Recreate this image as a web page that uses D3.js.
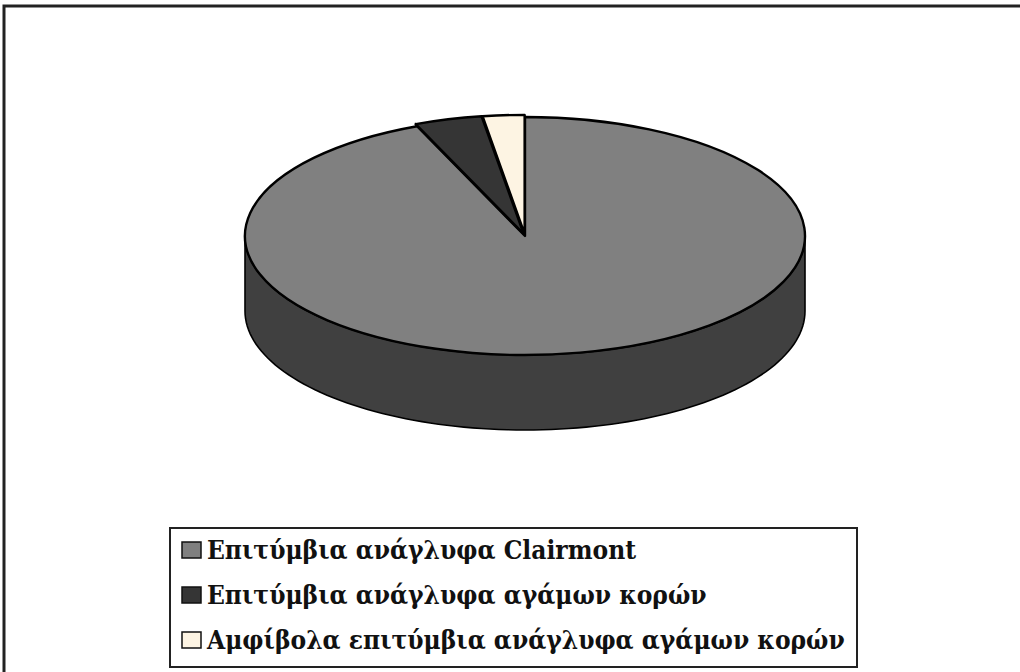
<!DOCTYPE html>
<html lang="el">
<head>
<meta charset="UTF-8">
<script src="https://d3js.org/d3.v7.min.js"></script>
<style>
  html, body { margin: 0; padding: 0; background: #fff; }
  svg { display: block; }
  .legend text { font-family: "DejaVu Serif Condensed", "DejaVu Serif", serif; font-stretch: condensed; font-weight: bold; fill: #111; }
</style>
</head>
<body>
<svg id="chart" width="1020" height="672"></svg>
<script>
// data
const categories = [
  "Επιτύμβια ανάγλυφα Clairmont",
  "Επιτύμβια ανάγλυφα αγάμων κορών",
  "Αμφίβολα επιτύμβια ανάγλυφα αγάμων κορών"
];
const shares = [93.7, 3.9, 2.4];
const topColors = ["#808080", "#353535", "#fdf4e3"];
const sideColors = ["#404040", "#1c1c1c", "#d9cfbd"];
const explode = [0, 5, 5];

const svg = d3.select("#chart");

// outer frame (runs off the right / bottom edges)
svg.append("rect")
  .attr("x", 4).attr("y", 6)
  .attr("width", 1100).attr("height", 800)
  .attr("fill", "none").attr("stroke", "#222").attr("stroke-width", 3);

// pie geometry
const cx = 525, cy = 236, rx = 280, ry = 119, depth = 75;
const k = ry / rx;

const pie = d3.pie().sort(null).value(d => d)(shares);
const arc = d3.arc().innerRadius(0).outerRadius(rx);

function offset(i) {
  const d = pie[i];
  const mid = (d.startAngle + d.endAngle) / 2;
  return [explode[i] * Math.sin(mid), -explode[i] * Math.cos(mid) * k];
}
function pt(a, dx, dy, h) {
  return [cx + dx + rx * Math.sin(a), cy + dy - rx * Math.cos(a) * k + h];
}

const g = svg.append("g");

// outer walls (only the front half is visible)
pie.forEach((d, i) => {
  const a0 = Math.max(d.startAngle, Math.PI / 2);
  const a1 = Math.min(d.endAngle, Math.PI * 1.5);
  if (a1 <= a0) return;
  const [dx, dy] = offset(i);
  const steps = d3.range(0, 101).map(t => a0 + (a1 - a0) * t / 100);
  const pts = steps.map(a => pt(a, dx, dy, 0))
    .concat(steps.slice().reverse().map(a => pt(a, dx, dy, depth)));
  g.append("path")
    .attr("d", d3.line()(pts) + "Z")
    .attr("fill", sideColors[i])
    .attr("stroke", "#000").attr("stroke-width", 1.6)
    .attr("stroke-linejoin", "round");
});

// radial walls, only seen through the gaps of the exploded slices
pie.forEach((d, i) => {
  const [dx, dy] = offset(i);
  [d.startAngle, d.endAngle].forEach(a => {
    const c = [cx + dx, cy + dy];
    const o = pt(a, dx, dy, 0);
    g.append("path")
      .attr("d", d3.line()([c, o, [o[0], o[1] + depth], [c[0], c[1] + depth]]) + "Z")
      .attr("fill", sideColors[i]).attr("stroke", "#000").attr("stroke-width", 1.5);
  });
});

// top faces
pie.forEach((d, i) => {
  const [dx, dy] = offset(i);
  g.append("path")
    .attr("d", arc(d))
    .attr("transform", `translate(${cx + dx},${cy + dy}) scale(1,${k})`)
    .attr("fill", topColors[i])
    .attr("stroke", "#000")
    .attr("stroke-width", 2.4)
    .attr("stroke-linejoin", "round")
    .attr("vector-effect", "non-scaling-stroke");
});

// legend
const lg = svg.append("g").attr("class", "legend");
lg.append("rect")
  .attr("x", 170).attr("y", 528).attr("width", 687).attr("height", 139)
  .attr("fill", "#fff").attr("stroke", "#222").attr("stroke-width", 2);

const rowY = d3.scalePoint().domain(categories).range([550, 640]);
const rows = lg.selectAll("g.row").data(categories).join("g")
  .attr("class", "row")
  .attr("transform", d => `translate(0,${rowY(d)})`);
rows.append("rect")
  .attr("x", 182).attr("y", -8).attr("width", 19).attr("height", 16)
  .attr("fill", (d, i) => topColors[i])
  .attr("stroke", "#111").attr("stroke-width", 1.5);
const labels = rows.append("text")
  .attr("x", 207).attr("y", 9)
  .style("font-size", "24px")
  .text(d => d);

// fit the longest label to the width seen in the picture
const longest = d3.max(labels.nodes(), n => n.getComputedTextLength());
const fs = 24 * 638 / longest;
labels.style("font-size", fs + "px");
</script>
</body>
</html>
